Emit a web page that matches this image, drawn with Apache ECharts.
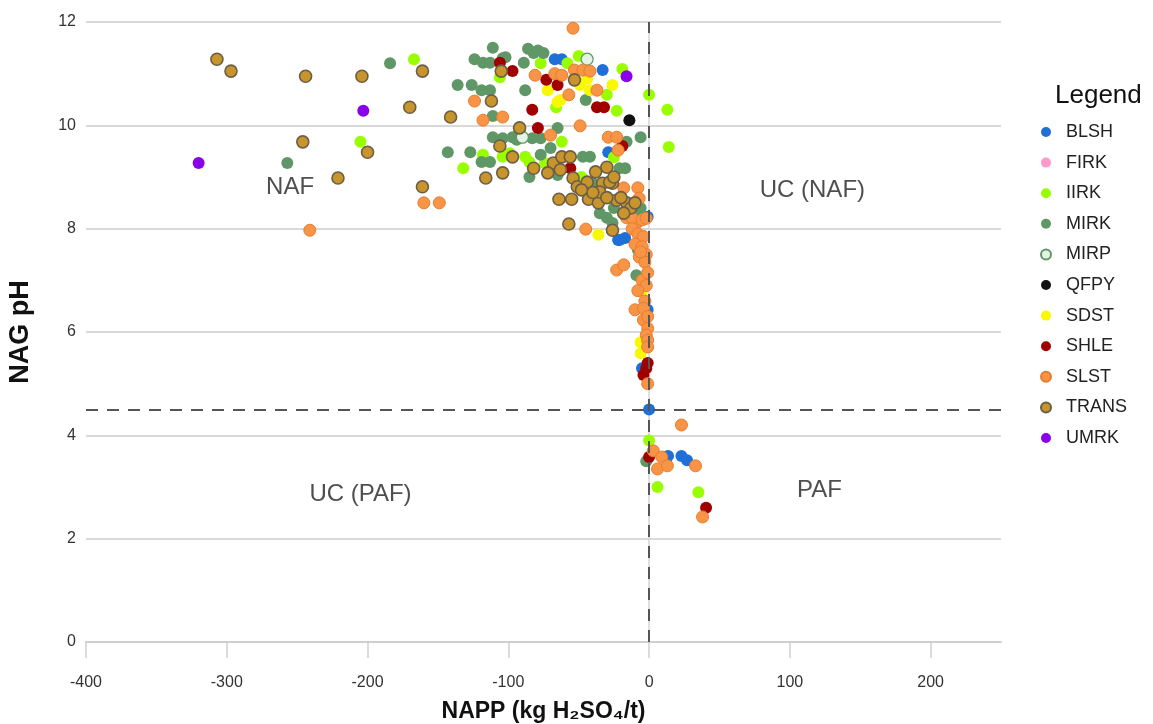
<!DOCTYPE html>
<html><head><meta charset="utf-8">
<script src="https://cdn.jsdelivr.net/npm/echarts@6/dist/echarts.min.js"></script>
<style>html,body{margin:0;padding:0;background:#fff}#c{width:1153px;height:724px}</style>
</head><body><div id="c"></div>
<script>
const xTicks = [-400, -300, -200, -100, 0, 100, 200];
const yTicks = [0, 2, 4, 6, 8, 10, 12];
const seriesNames = ['BLSH','FIRK','IIRK','MIRK','MIRP','QFPY','SDST','SHLE','SLST','TRANS','UMRK'];

const BLSH = [[-67,11.28],[-62,11.28],[-33,11.07],[-29,9.48],[-22,7.78],[-17,7.82],[-21,7.78],[-1,8.23],[-1,6.43],[-5,5.3],[0,4.5],[13.5,3.6],[23,3.6],[27,3.52]];
const FIRK = [];
const IIRK = [[-167,11.28],[-205,9.68],[-106,10.93],[-77,11.2],[-58,11.2],[-50,11.34],[-19,11.09],[-30,10.59],[-66,10.35],[-23,10.28],[0,10.59],[13,10.3],[14,9.58],[-132,9.17],[-118,9.43],[-104,9.39],[-99,9.46],[-88,9.39],[-85,9.29],[-74,9.27],[-62,9.68],[-48,9.0],[-25,9.38],[0,3.9],[6,3.0],[35,2.9]];
const MIRK = [[-257,9.27],[-184,11.2],[-136,10.78],[-126,10.78],[-119,10.68],[-113,10.68],[-124,11.28],[-118,11.21],[-113,11.21],[-111,11.5],[-104,11.3],[-102,11.32],[-89,11.21],[-86,11.48],[-82,11.4],[-79,11.45],[-75,11.4],[-88,10.68],[-111,10.18],[-65,9.95],[-45,10.49],[-111,9.77],[-104,9.75],[-97,9.77],[-94,9.72],[-83,9.75],[-77,9.75],[-143,9.48],[-127,9.48],[-119,9.29],[-113,9.29],[-77,9.43],[-70,9.56],[-85,9.0],[-65,9.04],[-47,9.39],[-42,9.39],[-40,8.88],[-21,9.17],[-17,9.17],[-16,9.68],[-6,9.77],[-37,8.79],[-37,8.55],[-35,8.3],[-25,8.4],[-30,8.21],[-26,8.11],[-9,8.36],[-6,8.4],[-11,8.3],[-8,7.59],[-9,7.1],[-2,3.5]];
const MIRP = [[-44,11.28],[-90,9.77]];
const QFPY = [[-14,10.1]];
const SDST = [[-72,10.68],[-65,10.45],[-63,10.49],[-49,10.78],[-42,10.68],[-44,10.9],[-26,10.78],[-36,7.88],[-5,6.79],[-6,5.8],[-6,5.59]];
const SHLE = [[-106,11.21],[-97,11.05],[-73,10.88],[-65,10.78],[-37,10.35],[-32,10.35],[-83,10.3],[-79,9.95],[-19,9.6],[-56,9.17],[-1,5.4],[-2,5.3],[-4,5.17],[0,3.58],[40.5,2.6]];
const SLST = [[-241,7.97],[-160,8.5],[-149,8.5],[-124,10.47],[-118,10.1],[-104,10.16],[-54,11.88],[-81,10.97],[-67,11.0],[-62,10.97],[-53,11.07],[-47,11.07],[-42,11.05],[-57,10.59],[-37,10.68],[-49,9.99],[-70,9.81],[-29,9.77],[-23,9.77],[-22,9.52],[-18,8.79],[-8,8.79],[-7,8.59],[-45,7.99],[-16,8.21],[-9,8.11],[-12,8.2],[-5,8.17],[-2,8.2],[-12,8.0],[-8,7.9],[-4,7.85],[-10,7.7],[-5,7.65],[-2,7.5],[-7,7.45],[-3,7.35],[-23,7.2],[-18,7.3],[-5,7.0],[-2,6.9],[-8,6.8],[-3,6.6],[-10,6.43],[-4,6.46],[-4,6.23],[-1,6.3],[-1,6.07],[-2,5.94],[-1,5.84],[-1,5.71],[-1,5.0],[-6,7.55],[-1,7.15],[23,4.2],[3,3.7],[9,3.58],[33,3.41],[6,3.35],[13,3.41],[38,2.42]];
const TRANS = [[-307,11.28],[-297,11.05],[-244,10.95],[-204,10.95],[-246,9.68],[-200,9.48],[-221,8.98],[-161,11.05],[-170,10.35],[-141,10.16],[-105,11.05],[-112,10.47],[-92,9.95],[-116,8.98],[-104,9.08],[-97,9.39],[-106,9.6],[-82,9.17],[-68,9.27],[-62,9.39],[-56,9.39],[-63,9.14],[-72,9.08],[-54,8.98],[-51,8.81],[-64,8.57],[-55,8.57],[-161,8.81],[-57,8.09],[-43,8.57],[-36,8.5],[-33,8.88],[-26,8.88],[-30,9.19],[-23,8.55],[-16,8.5],[-26,7.97],[-53,10.88],[-44,8.9],[-28,8.9],[-35,8.71],[-20,8.6],[-13,8.4],[-40,8.7],[-30,8.6],[-18,8.3],[-10,8.5],[-48,8.75],[-38,9.1],[-25,9.0]];
const UMRK = [[-320,9.27],[-203,10.28],[-16,10.95]];
const regionLabels = [[-255,8.8,'NAF'],[116,8.75,'UC (NAF)'],[-205,2.85,'UC (PAF)'],[121,2.94,'PAF']];
const guideX = 0, guideY = 4.5;

const dataMap = {BLSH,FIRK,IIRK,MIRK,MIRP,QFPY,SDST,SHLE,SLST,TRANS,UMRK};
const styles = {
  BLSH:{color:'#1f6fd8'}, FIRK:{color:'#ff99cc'}, IIRK:{color:'#99ff00'},
  MIRK:{color:'#5f9766'}, MIRP:{color:'#e4f4e4',borderColor:'#5f9766',borderWidth:1.2},
  QFPY:{color:'#111111'}, SDST:{color:'#f8f800'}, SHLE:{color:'#a00000'},
  SLST:{color:'#f79446',borderColor:'#e67d2e',borderWidth:1},
  TRANS:{color:'#c8942c',borderColor:'#6b5e48',borderWidth:1.6}, UMRK:{color:'#8a00e8'}
};
const font = 'Liberation Sans, Arial, sans-serif';
const series = seriesNames.map(n => ({
  name:n, type:'scatter', data:dataMap[n], symbolSize:12,
  itemStyle:Object.assign({opacity:1}, styles[n]), emphasis:{disabled:true}
}));
series.push({
  type:'scatter', name:'_labels', data:regionLabels.map(d=>[d[0],d[1],d[2]]), symbolSize:0,
  label:{show:true, position:'inside', formatter:p=>p.data[2], fontSize:24, color:'#222', fontFamily:font},
  silent:true, z:1
});
series.push({
  type:'scatter', name:'_guides', data:[], silent:true, z:1,
  markLine:{symbol:'none', silent:true, label:{show:false},
    lineStyle:{color:'#555', type:[12,9], width:2},
    data:[{xAxis:guideX},{yAxis:guideY}]}
});
const chart = echarts.init(document.getElementById('c'));
chart.setOption({
  animation:false,
  textStyle:{fontFamily:font},
  grid:{left:86, right:152, top:22, bottom:82, containLabel:false, outerBoundsMode:'none'},
  title:{text:'Legend', left:1050, top:78, textStyle:{fontSize:26, fontWeight:'normal', color:'#111', fontFamily:font}},
  legend:{data:seriesNames, orient:'vertical', left:1035, top:118, icon:'circle', itemWidth:10, itemHeight:10, itemGap:12.6,
    textStyle:{fontSize:18, color:'#222', fontFamily:font, lineHeight:18, padding:[0,0,0,10]}},
  xAxis:{type:'value', min:-400, max:250, interval:100,
    name:'NAPP (kg H₂SO₄/t)', nameLocation:'middle', nameGap:58,
    nameTextStyle:{fontSize:23, fontWeight:'bold', color:'#111', fontFamily:font},
    axisLine:{show:true, onZero:false, lineStyle:{color:'#cfcfcf', width:2}},
    axisTick:{show:true, length:16, lineStyle:{color:'#cfcfcf', width:1.5}, customValues:xTicks},
    axisLabel:{fontSize:16, color:'#333', margin:33, customValues:xTicks},
    splitLine:{show:false}},
  yAxis:{type:'value', min:0, max:12, interval:2,
    name:'NAG pH', nameLocation:'middle', nameGap:52,
    nameTextStyle:{fontSize:27, fontWeight:'bold', color:'#111', fontFamily:font},
    axisLine:{show:true, lineStyle:{color:'#d4d4d4', width:1.5}},
    axisTick:{show:true, length:5, lineStyle:{color:'#d4d4d4'}, customValues:yTicks},
    axisLabel:{fontSize:16, color:'#333', margin:10, customValues:yTicks},
    splitLine:{show:true, lineStyle:{color:'#d9d9d9', width:2}}},
  series
});
</script></body></html>
